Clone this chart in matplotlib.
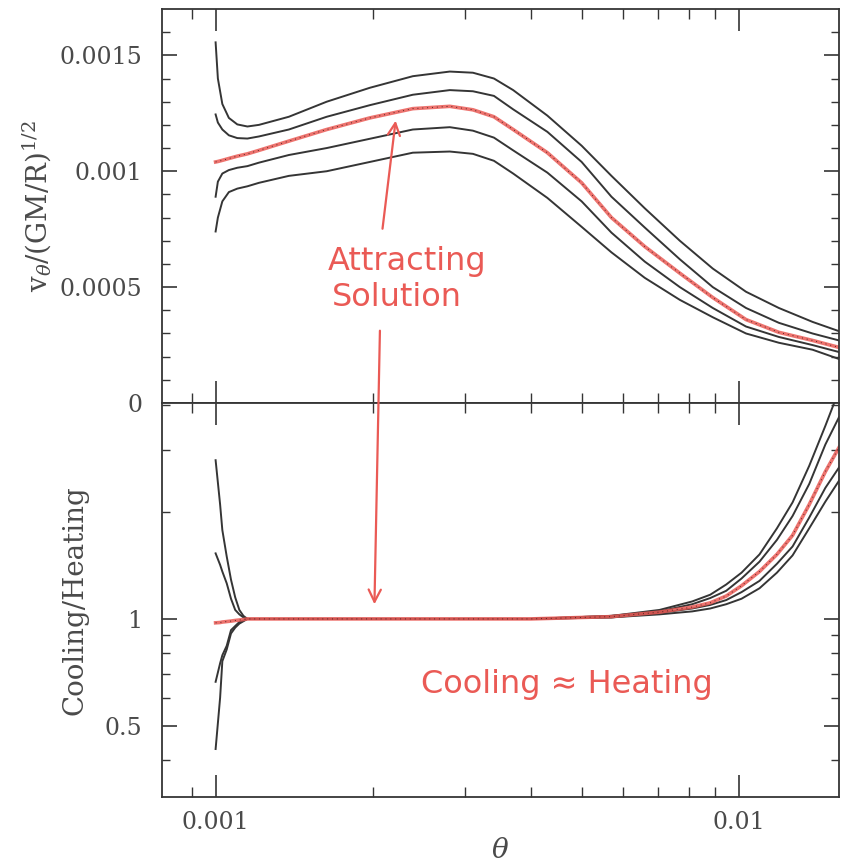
import matplotlib.pyplot as plt
from matplotlib.ticker import FixedLocator, NullFormatter, FixedFormatter

# theta grid for the velocity panel
theta_top = [0.001, 0.00101, 0.00103, 0.00106, 0.0011, 0.00115, 0.00121, 0.00138, 0.00163, 0.00197,
             0.00238, 0.0028, 0.0031, 0.0034, 0.0037, 0.0043, 0.0050, 0.0057, 0.0066, 0.0077,
             0.0089, 0.0103, 0.0119, 0.0138, 0.0155]
# v_theta/(GM/R)^1/2 in units of 1e-3
v_a = [1.556, 1.40, 1.29, 1.23, 1.202, 1.193, 1.20, 1.235, 1.30, 1.36, 1.41, 1.43, 1.425, 1.40, 1.35,
       1.24, 1.11, 0.98, 0.84, 0.70, 0.58, 0.48, 0.41, 0.35, 0.31]
v_b = [1.245, 1.21, 1.18, 1.155, 1.143, 1.141, 1.15, 1.18, 1.235, 1.285, 1.33, 1.35, 1.345, 1.325, 1.267,
       1.17, 1.04, 0.89, 0.757, 0.62, 0.50, 0.41, 0.346, 0.30, 0.27]
v_red = [1.04, 1.042, 1.047, 1.055, 1.065, 1.075, 1.09, 1.13, 1.18, 1.23, 1.27, 1.28, 1.265, 1.235, 1.18,
         1.08, 0.95, 0.80, 0.675, 0.56, 0.455, 0.36, 0.305, 0.27, 0.24]
v_d = [0.89, 0.955, 0.99, 1.005, 1.015, 1.022, 1.037, 1.07, 1.10, 1.14, 1.18, 1.19, 1.175, 1.145, 1.09,
       0.994, 0.87, 0.735, 0.61, 0.50, 0.41, 0.33, 0.285, 0.25, 0.22]
v_e = [0.74, 0.80, 0.87, 0.91, 0.925, 0.935, 0.95, 0.98, 1.00, 1.04, 1.08, 1.085, 1.075, 1.045, 0.99,
       0.885, 0.76, 0.65, 0.54, 0.445, 0.37, 0.30, 0.26, 0.23, 0.19]

# theta grid for cooling/heating panel
theta_bot = [0.001, 0.00102, 0.00103, 0.00105, 0.00107, 0.00109, 0.00111, 0.00113, 0.00115, 0.0013,
             0.002, 0.003, 0.004, 0.0057, 0.00704, 0.00813, 0.0088, 0.00944, 0.0101, 0.01093,
             0.0118, 0.01264, 0.0136, 0.0146, 0.0155]
ch_1 = [2.8, 2.1, 1.78, 1.5, 1.29, 1.15, 1.06, 1.02, 1.0, 1.0, 1.0, 1.0, 1.0, 1.02, 1.06, 1.12, 1.17, 1.25,
        1.35, 1.52, 1.80, 2.13, 2.7, 3.5, 4.4]
ch_2 = [1.53, 1.42, 1.36, 1.26, 1.14, 1.06, 1.03, 1.01, 1.0, 1.0, 1.0, 1.0, 1.0, 1.02, 1.05, 1.10, 1.145, 1.20,
        1.30, 1.45, 1.67, 1.95, 2.4, 3.1, 3.7]
ch_red = [0.975, 0.977, 0.98, 0.983, 0.986, 0.99, 0.993, 0.996, 1.0, 1.0, 1.0, 1.0, 1.0, 1.015, 1.045, 1.08,
          1.11, 1.16, 1.24, 1.36, 1.52, 1.72, 2.1, 2.6, 3.04]
ch_4 = [0.665, 0.75, 0.79, 0.84, 0.93, 0.955, 0.98, 0.99, 1.0, 1.0, 1.0, 1.0, 1.0, 1.01, 1.04, 1.07, 1.095, 1.13,
        1.19, 1.28, 1.43, 1.6, 1.93, 2.34, 2.67]
ch_5 = [0.43, 0.60, 0.76, 0.82, 0.91, 0.945, 0.97, 0.985, 1.0, 1.0, 1.0, 1.0, 1.0, 1.01, 1.03, 1.05, 1.07, 1.10,
        1.14, 1.22, 1.35, 1.51, 1.80, 2.14, 2.45]

INK = '#353535'
RED = '#ea5a55'
TXT = '#4a4a4a'

plt.rcParams['font.family'] = 'DejaVu Serif'
plt.rcParams['mathtext.fontset'] = 'dejavuserif'

fig = plt.figure(figsize=(8.42, 8.63), dpi=100)
ax1 = fig.add_axes([0.1924, 0.533, 0.804, 0.4566])
ax2 = fig.add_axes([0.1924, 0.0765, 0.804, 0.4566], sharex=ax1)

scale = 1e-3
for v in [v_a, v_b, v_d, v_e]:
    ax1.plot(theta_top, [y * scale for y in v], color=INK, lw=1.4)
ax1.plot(theta_top, [y * scale for y in v_red], color=RED, lw=2.6, alpha=0.85)
ax1.plot(theta_top, [y * scale for y in v_red], color='#552222', lw=0.7, ls=(0, (1, 4)))

for c in [ch_1, ch_2, ch_4, ch_5]:
    ax2.plot(theta_bot, c, color=INK, lw=1.4)
ax2.plot(theta_bot, ch_red, color=RED, lw=2.6, alpha=0.85)
ax2.plot(theta_bot, ch_red, color='#552222', lw=0.7, ls=(0, (1, 4)))

ax1.set_xscale('log')
ax1.set_xlim(0.00079, 0.0155)
ax1.set_ylim(0, 0.0017)
ax2.set_yscale('log')
ax2.set_ylim(0.315, 4.06)

xmaj = [0.001, 0.01]
xmin = [0.0009] + [k * 0.001 for k in range(2, 10)]
for ax in (ax1, ax2):
    ax.xaxis.set_major_locator(FixedLocator(xmaj))
    ax.xaxis.set_minor_locator(FixedLocator(xmin))
    ax.xaxis.set_minor_formatter(NullFormatter())
    ax.tick_params(axis='x', which='major', direction='in', length=16, width=1.2, top=True, bottom=True,
                   colors=INK, pad=10)
    ax.tick_params(axis='x', which='minor', direction='in', length=7, width=1.0, top=True, bottom=True, colors=INK)
    ax.tick_params(axis='y', which='major', direction='in', length=11, width=1.2, left=True, right=True,
                   colors=INK, pad=14)
    ax.tick_params(axis='y', which='minor', direction='in', length=6, width=1.0, left=True, right=True, colors=INK)
    ax.tick_params(labelsize=17, labelcolor=TXT)
    for s in ax.spines.values():
        s.set_color(INK)
        s.set_linewidth(1.3)

ax1.tick_params(axis='x', labelbottom=False)
ax1.yaxis.set_major_locator(FixedLocator([0, 0.0005, 0.001, 0.0015]))
ax1.yaxis.set_major_formatter(FixedFormatter(['0', '0.0005', '0.001', '0.0015']))
ax1.yaxis.set_minor_locator(FixedLocator([k * 0.0001 for k in range(1, 17)]))

ax2.xaxis.set_major_formatter(FixedFormatter(['0.001', '0.01']))
ax2.yaxis.set_major_locator(FixedLocator([0.5, 1]))
ax2.yaxis.set_major_formatter(FixedFormatter(['0.5', '1']))
ax2.yaxis.set_minor_locator(FixedLocator([0.4, 0.6, 0.7, 0.8, 0.9, 2, 3, 4]))
ax2.yaxis.set_minor_formatter(NullFormatter())

ax1.set_ylabel(r'v$_\theta$/(GM/R)$^{1/2}$', fontsize=20, color=TXT, labelpad=4)
ax2.set_ylabel('Cooling/Heating', fontsize=20, color=TXT, labelpad=12)
ax2.set_xlabel(r'$\theta$', fontsize=20, color=TXT, labelpad=2)

# hand-written style annotations
hand = dict(color=RED, fontsize=23, family='DejaVu Sans', ha='center', va='center')
ax1.text(0.00232, 0.00061, 'Attracting', **hand)
ax1.text(0.00222, 0.000455, 'Solution', **hand)
ax2.text(0.00468, 0.652, 'Cooling \u2248 Heating', **hand)

ax1.annotate('', xy=(0.00221, 0.00123), xytext=(0.00208, 0.00074),
             arrowprops=dict(arrowstyle='->', color=RED, lw=1.6, mutation_scale=22))
ax2.annotate('', xy=(0.00201, 1.08), xytext=(0.00206, 0.000324), textcoords=ax1.transData,
             arrowprops=dict(arrowstyle='->', color=RED, lw=1.6, mutation_scale=22),
             annotation_clip=False)

fig.savefig('out.png', dpi=100, facecolor='white')
